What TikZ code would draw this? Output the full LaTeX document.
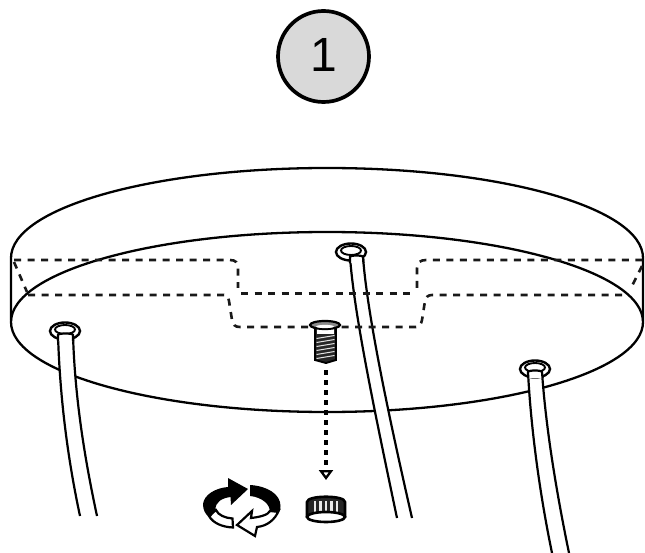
\documentclass[tikz,border=0pt]{standalone}
\usepackage{fontspec}
\setmainfont{Liberation Sans}
\usetikzlibrary{arrows.meta}
\tikzstyle{outline}=[line width=2.3pt, line join=round]
\tikzstyle{hidden}=[line width=2.6pt, dash pattern=on 7pt off 6.5pt, black!90]
\tikzstyle{cable}=[line width=2.2pt]
\tikzstyle{grommet}=[line width=2.4pt, fill=white]
\tikzstyle{stepbadge}=[circle, draw, line width=3.7pt, fill=black!15, minimum size=91pt, inner sep=0pt, font=\fontsize{48}{48}\selectfont]

\begin{document}
\begin{tikzpicture}[x=1pt, y=-1pt]
\useasboundingbox (0,0) rectangle (645,553);
% Step number
    \node[stepbadge] (stepone) at (323.5,56.5) {\raisebox{3.5pt}{1}};
% Canopy
    \draw[outline] (11,320) -- (11,258) .. controls (11,208) and (152,168) .. (327,168)
        .. controls (502,168) and (643,208) .. (643,258) -- (643,320);
    \draw[outline] (327,322) ellipse (316pt and 90pt);
% Cables
    \fill[white] (58,335) .. controls (60,400) and (68,460) .. (80,516) -- (97,516) .. controls (85,460) and (75,400) .. (73,335) -- cycle;
    \draw[cable] (58,335) .. controls (60,400) and (68,460) .. (80,516);
    \draw[cable] (73,335) .. controls (75,400) and (85,460) .. (97,516);
    \fill[white] (350,257) .. controls (354,310) and (370,390) .. (397,518) -- (412,518) .. controls (385,400) and (367,310) .. (363,257) -- cycle;
    \draw[cable] (350,257) .. controls (354,310) and (370,390) .. (397,518);
    \draw[cable] (363,257) .. controls (367,310) and (385,400) .. (412,518);
    \fill[white] (528,372) .. controls (531,430) and (540,495) .. (552,553) -- (569,553) .. controls (557,495) and (546,430) .. (542,372) -- cycle;
    \draw[cable] (528,372) .. controls (531,430) and (540,495) .. (552,553);
    \draw[cable] (542,372) .. controls (546,430) and (557,495) .. (569,553);
% Hidden edges
    \draw[hidden] (14,260) -- (230,260) .. controls (236,260) and (238,263) .. (238,268) -- (238,288);
    \draw[hidden] (241,293.4) -- (415,293.4);
    \draw[hidden] (417,288) -- (417,268) .. controls (417,263) and (420,260) .. (426,260) -- (643,260);
    \draw[hidden] (14,262) -- (27,292);
    \draw[hidden] (642,266) -- (630,290);
    \draw[hidden] (28,295) -- (224,295) .. controls (228,295) and (229,298) .. (229,301) -- (232,320) .. controls (233,325) and (235,327) .. (240,327) -- (416,327)
        .. controls (420,327) and (421,324) .. (422,320) -- (425,301) .. controls (426,297) and (428,295) .. (432,295) -- (628,295);
% Grommets
    \draw[grommet] (65,331) ellipse (15pt and 8.5pt);
    \draw[grommet, line width=1.9pt] (65,329.5) ellipse (10pt and 4.5pt);
    \draw[cable, fill=white] (58,341) -- (58,335) .. controls (58,333) and (73,333) .. (73,335) -- (73,341);
    \draw[grommet] (351,252) ellipse (15pt and 8.5pt);
    \draw[grommet, line width=1.9pt] (351,250.5) ellipse (10pt and 4.5pt);
    \draw[cable, fill=white] (350,263) -- (350,257) .. controls (350,255) and (363,255) .. (363,257) -- (363.4,263);
    \draw[grommet] (535,369) ellipse (15pt and 8.5pt);
    \draw[grommet, line width=1.9pt] (535,367.5) ellipse (10pt and 4.5pt);
    \draw[cable, fill=white] (528.3,378) -- (528,372) .. controls (528,370) and (542,370) .. (542,372) -- (542.5,378);
% Screw
    \fill[black!85] (315,328) -- (336,328) -- (336,360) -- (326,363) -- (315,360) -- cycle;
    \draw[line width=1.9pt] (315,328) -- (315,360) -- (326,363) -- (336,360) -- (336,328);
    \fill[white] (317,328) rectangle (334,333.5);
    \foreach \y in {337,341,345,349,353,357}
        \draw[white!88!black, line width=1pt] (316.5,\y+1.5) -- (334.5,\y-1.5);
    \draw[line width=2.2pt, fill=black!45] (325,325) ellipse (15pt and 4pt);
    \fill[white] (325,326.5) ellipse (9pt and 1.6pt);
% Arrow down to the knob
    \coordinate (screwtip) at (326,370);
    \coordinate (knobtop) at (326,480);
    \draw[line width=3.2pt, dash pattern=on 5pt off 5pt, -{Triangle[open, length=10pt, width=14pt, line width=2.3pt]}] (screwtip) -- (knobtop);
% Knob
    \fill[black!85] (307,517) -- (307,502) .. controls (307,495) and (345,495) .. (345,502) -- (345,517) -- cycle;
    \foreach \x in {315,320.5,326,331.5,337}
        \draw[white!92!black, line width=2.4pt] (\x,501) -- (\x,514);
    \draw[line width=2.6pt] (307,517) -- (307,502) .. controls (307,495) and (345,495) .. (345,502) -- (345,517);
    \draw[line width=2.6pt, fill=white] (326,517) ellipse (19pt and 5pt);
% Rotation symbol
    \draw[line width=2.2pt, fill=white, line join=miter] (209,516) .. controls (213,523) and (222,527) .. (233,527.5) -- (232.5,518.5) .. controls (225,518) and (218,515) .. (216,510) -- cycle;
    \fill (203,504) .. controls (204,495) and (215,488) .. (228,487) -- (228,478) -- (248,489) -- (231,505) -- (230.5,497)
        .. controls (222,498) and (215,502) .. (215.5,510) -- (210,518) .. controls (205,514) and (203,510) .. (203,504) -- cycle;
    \draw[line width=2.2pt, fill=white, line join=miter] (279,510) .. controls (275,520) and (267,526) .. (257,527) -- (255,536) -- (237,525) -- (252,511) -- (251,518) .. controls (260,517) and (268,515) .. (270,511) -- cycle;
    \fill (250,485) .. controls (267,486) and (280.5,494) .. (280.5,506) .. controls (280.5,508) and (280,511) .. (278.5,513) -- (269.5,512) .. controls (271,505) and (262,497) .. (250,496) -- cycle;
\end{tikzpicture}
\end{document}
